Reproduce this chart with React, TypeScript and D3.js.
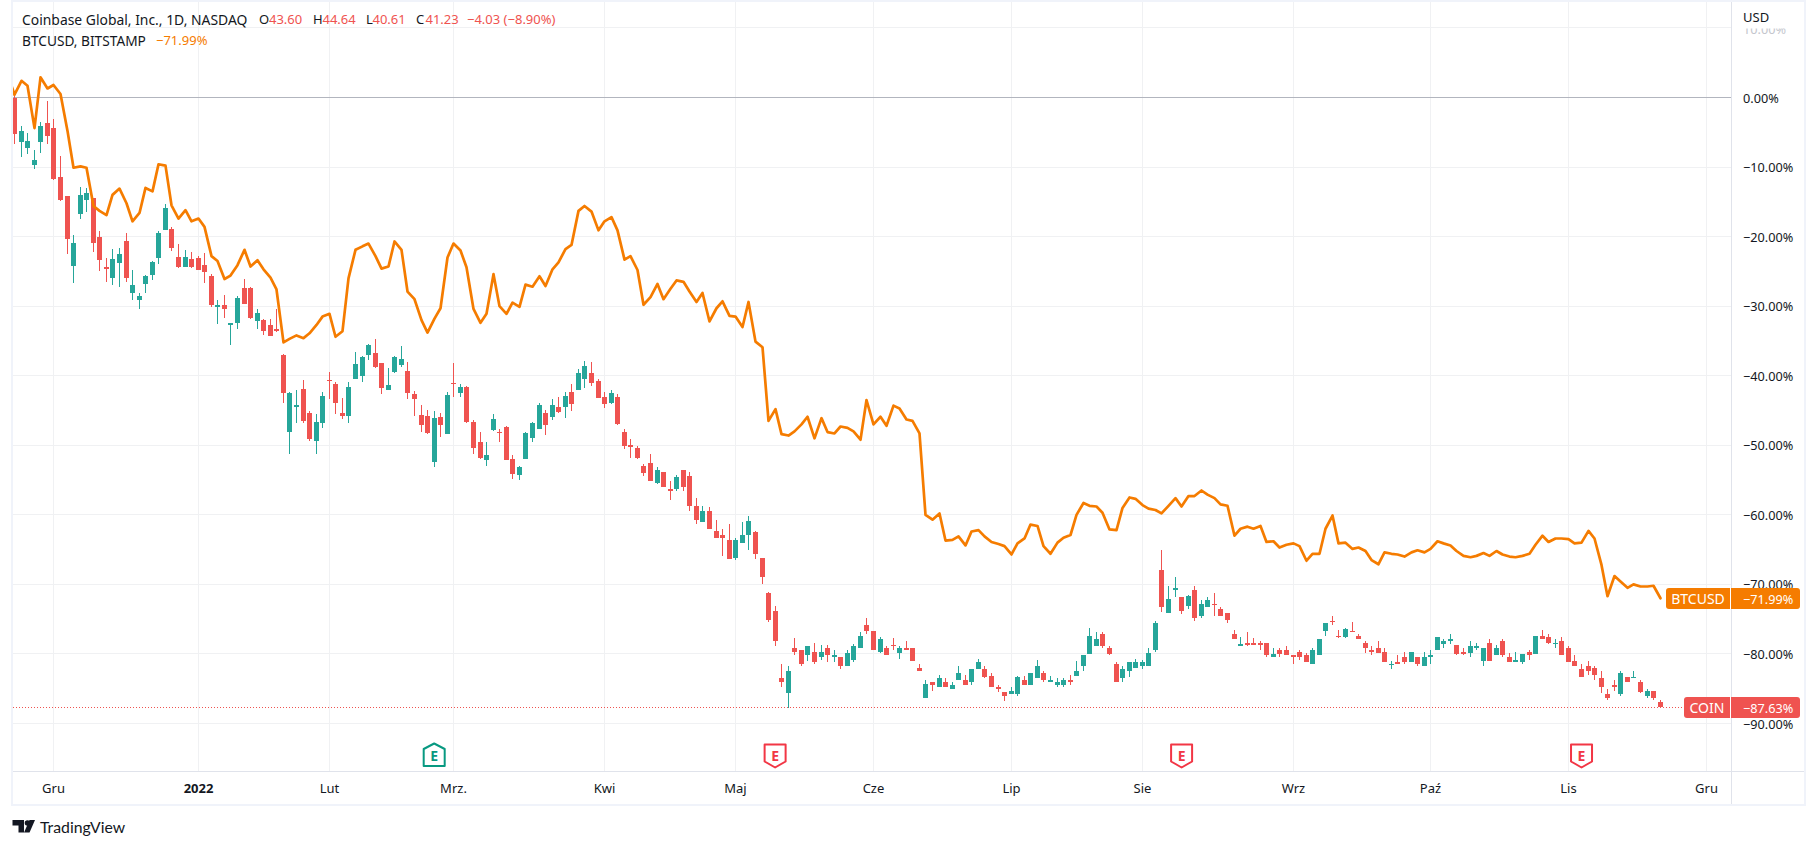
import React from "react";
import * as d3 from "d3";

const FONT = "'Noto Sans', sans-serif";
const UP = "#26a69a";
const DOWN = "#ef5350";
const ORANGE = "#f57c00";
const FRAME = "#f0f3fa";
const GRID = "#f0f1f3";
const AXIS = "#e0e3eb";
const TEXT = "#131722";

// COIN, percent change from the first bar of the window
const opens = [
0.0,-6.4,-7.3,-9.7,-6.4,-3.7,-4.4,-11.4,-14.2,-24.2,
-16.7,-14.7,-14.4,-20.1,-24.4,-25.9,-23.8,-20.6,-28.1,-29.1,
-26.8,-25.5,-23.1,-19.0,-18.9,-22.9,-24.4,-23.2,-23.1,-24.1,
-25.7,-30.1,-29.8,-32.7,-32.4,-27.4,-27.4,-32.1,-32.0,-32.7,
-33.3,-37.0,-48.1,-44.5,-41.9,-45.4,-49.4,-46.8,-40.6,-41.2,
-45.4,-45.8,-40.5,-40.0,-37.0,-36.7,-38.2,-42.1,-39.5,-38.5,
-39.3,-42.6,-45.6,-45.8,-52.4,-45.9,-48.4,-41.1,-42.5,-41.6,
-46.7,-49.5,-52.1,-47.8,-48.1,-47.4,-52.0,-54.3,-52.0,-48.9,
-47.7,-45.4,-45.9,-44.5,-44.5,-42.3,-42.1,-40.5,-39.6,-40.8,
-43.1,-43.9,-43.1,-48.1,-50.0,-50.4,-53.0,-52.5,-55.4,-53.8,
-56.3,-56.3,-53.5,-54.4,-58.7,-61.1,-59.4,-62.3,-62.9,-63.6,
-66.2,-64.0,-62.9,-62.4,-66.2,-71.2,-73.8,-83.4,-85.6,-79.1,
-79.5,-80.2,-79.7,-80.5,-79.1,-80.4,-80.5,-81.7,-80.8,-79.1,
-75.9,-76.7,-79.7,-79.1,-78.7,-79.8,-79.1,-79.2,-82.0,-86.3,
-84.1,-84.8,-84.1,-85.0,-83.8,-83.8,-84.0,-82.1,-82.1,-83.1,
-84.8,-85.4,-85.7,-85.7,-83.7,-84.4,-83.4,-82.7,-84.0,-84.5,
-84.4,-83.7,-83.1,-81.8,-80.0,-78.8,-77.1,-79.2,-81.4,-83.5,
-82.5,-82.0,-81.7,-81.8,-79.4,-68.0,-74.1,-70.8,-71.8,-73.1,
-70.8,-74.5,-73.3,-72.8,-73.6,-74.1,-77.1,-78.8,-78.4,-78.4,
-78.4,-78.4,-80.4,-79.5,-79.4,-80.2,-79.7,-80.2,-81.5,-80.1,
-76.7,-75.2,-77.4,-77.5,-76.7,-77.4,-78.4,-79.5,-79.2,-79.7,
-81.5,-81.1,-80.4,-81.2,-80.5,-81.7,-80.5,-79.4,-78.5,-78.1,
-78.7,-79.7,-79.8,-79.1,-81.0,-78.4,-80.1,-78.1,-80.5,-81.1,
-81.1,-79.7,-80.0,-77.4,-77.5,-78.5,-78.2,-79.2,-81.0,-82.1,
-81.8,-82.0,-83.5,-85.8,-84.5,-85.8,-83.3,-83.5,-84.1,-86.1,
-85.3,-86.92];

const closes = [
-5.3,-4.8,-6.3,-9.0,-4.1,-5.5,-11.7,-14.7,-20.3,-20.9,
-14.0,-13.7,-20.9,-23.4,-24.7,-23.2,-22.5,-25.9,-27.0,-28.5,
-25.7,-23.6,-19.5,-15.9,-21.6,-24.4,-22.9,-24.4,-24.8,-25.1,
-29.8,-29.8,-30.4,-32.4,-28.8,-29.7,-31.7,-31.0,-33.6,-34.3,
-33.6,-42.5,-42.5,-44.2,-46.5,-49.1,-46.7,-42.9,-40.8,-43.9,
-45.8,-41.6,-38.3,-37.3,-35.6,-38.8,-41.8,-41.3,-37.3,-37.6,
-42.5,-43.3,-47.1,-48.2,-46.1,-47.1,-42.8,-41.2,-41.6,-46.7,
-50.4,-51.8,-51.4,-46.2,-48.2,-52.1,-54.1,-53.1,-48.2,-46.8,
-44.2,-47.1,-44.2,-45.2,-42.9,-44.1,-39.6,-38.6,-41.1,-43.2,
-44.1,-42.5,-46.9,-50.1,-50.2,-51.8,-54.0,-55.1,-53.5,-56.0,
-56.6,-54.5,-56.0,-58.8,-60.8,-59.4,-62.0,-63.3,-63.3,-66.3,
-63.6,-62.9,-60.9,-65.7,-68.9,-75.1,-78.2,-84.0,-82.4,-79.7,
-81.5,-78.9,-81.1,-79.7,-80.2,-80.1,-81.7,-79.8,-78.9,-77.4,
-76.7,-79.5,-77.8,-80.1,-78.8,-79.1,-79.4,-81.0,-82.4,-84.3,
-84.5,-83.4,-84.7,-84.5,-82.7,-84.5,-82.2,-81.1,-83.3,-84.7,
-85.1,-86.0,-85.3,-83.3,-84.5,-82.7,-81.8,-83.8,-83.7,-84.0,
-83.8,-84.0,-82.4,-80.2,-77.4,-77.8,-78.8,-80.0,-84.1,-82.2,
-81.2,-81.1,-81.1,-79.8,-75.6,-73.3,-72.1,-70.5,-73.8,-71.6,
-74.9,-72.8,-72.3,-72.9,-74.5,-75.1,-77.8,-78.5,-78.7,-78.7,
-78.7,-80.1,-80.0,-80.0,-80.1,-80.4,-80.5,-81.2,-79.5,-77.9,
-75.6,-75.4,-77.5,-76.4,-76.9,-77.9,-79.1,-79.7,-79.8,-81.2,
-81.4,-81.4,-81.1,-79.7,-81.5,-80.5,-80.1,-77.5,-78.1,-77.8,
-80.0,-80.0,-78.9,-78.9,-79.1,-81.0,-79.2,-80.2,-81.1,-80.8,
-80.0,-80.1,-77.4,-77.9,-78.4,-78.4,-80.2,-81.1,-81.8,-83.3,
-82.4,-83.0,-84.8,-86.3,-84.8,-82.7,-84.1,-83.3,-85.4,-85.3,
-86.4,-87.63];

const highs = [
0.4,-4.1,-5.1,-7.5,-3.5,-0.5,-3.1,-8.4,-14.2,-19.8,
-12.9,-13.0,-14.4,-19.2,-23.1,-21.8,-21.6,-19.5,-24.8,-28.1,
-25.5,-23.5,-19.2,-15.3,-18.6,-21.1,-21.9,-22.2,-22.8,-22.4,
-25.4,-29.1,-28.4,-32.4,-28.5,-26.1,-27.2,-30.4,-31.8,-31.8,
-30.4,-36.9,-42.3,-42.1,-40.6,-45.1,-45.5,-42.3,-39.5,-40.9,
-43.2,-40.9,-36.6,-37.2,-35.5,-34.7,-38.2,-38.9,-37.2,-35.7,
-38.0,-42.2,-44.2,-44.9,-45.1,-45.4,-42.3,-38.2,-41.2,-41.5,
-46.4,-48.1,-49.5,-45.5,-47.7,-47.2,-51.4,-53.0,-48.1,-46.7,
-43.9,-44.9,-43.3,-43.1,-42.3,-41.2,-39.0,-37.9,-38.0,-40.5,
-42.3,-42.1,-42.6,-47.7,-49.1,-50.1,-52.7,-51.2,-53.1,-53.8,
-55.1,-54.3,-53.5,-53.9,-57.6,-58.7,-58.9,-60.7,-62.0,-61.3,
-63.3,-61.1,-60.1,-62.3,-66.2,-71.1,-73.1,-81.5,-81.8,-77.7,
-79.5,-78.8,-78.4,-78.7,-78.7,-79.4,-80.5,-79.4,-78.5,-76.8,
-74.9,-76.7,-77.5,-78.8,-77.7,-78.9,-78.1,-79.1,-81.4,-83.7,
-84.0,-83.0,-83.5,-84.1,-81.7,-83.0,-82.1,-80.7,-81.8,-82.7,
-84.5,-85.4,-84.8,-83.1,-83.1,-82.7,-80.8,-82.4,-83.1,-83.5,
-83.5,-83.0,-81.0,-80.1,-76.2,-76.9,-76.9,-78.9,-81.1,-81.7,
-81.1,-80.7,-80.8,-79.1,-75.2,-65.0,-70.3,-68.9,-71.8,-71.5,
-70.3,-72.2,-71.8,-71.3,-73.3,-74.1,-76.5,-77.5,-76.9,-77.7,
-78.2,-78.4,-79.1,-79.1,-78.8,-80.1,-79.5,-79.8,-79.2,-77.9,
-75.6,-74.5,-76.5,-76.2,-75.4,-77.1,-78.2,-78.9,-78.2,-79.2,
-81.0,-80.1,-79.7,-79.7,-80.5,-79.7,-79.5,-77.5,-77.9,-77.1,
-78.7,-79.1,-78.1,-78.4,-79.1,-77.8,-78.7,-77.8,-79.8,-79.7,
-80.0,-79.5,-77.4,-76.5,-77.2,-77.8,-77.5,-78.9,-80.1,-81.4,
-81.0,-81.7,-82.4,-85.0,-83.7,-82.4,-83.3,-82.5,-83.7,-85.0,
-85.3,-86.6];

const lows = [
-6.7,-8.5,-8.1,-10.3,-8.0,-6.7,-11.9,-14.9,-22.5,-26.7,
-17.5,-16.5,-22.2,-24.9,-26.5,-27.0,-27.2,-26.5,-29.1,-30.4,
-28.1,-26.2,-23.9,-19.0,-22.1,-24.5,-24.4,-24.5,-24.8,-26.7,
-30.1,-32.6,-31.7,-35.6,-33.3,-29.7,-31.8,-33.3,-34.1,-34.3,
-33.7,-43.9,-51.2,-46.8,-46.8,-49.4,-51.2,-47.5,-43.3,-45.5,
-46.2,-46.8,-40.5,-40.9,-37.8,-38.9,-42.6,-42.1,-39.6,-38.8,
-43.3,-45.8,-48.1,-48.4,-53.1,-48.8,-48.4,-43.1,-43.1,-46.8,
-51.2,-52.0,-53.0,-47.9,-49.5,-52.1,-54.8,-55.0,-52.0,-49.5,
-47.7,-48.5,-46.4,-45.4,-46.1,-45.1,-42.1,-41.8,-41.5,-43.2,
-44.6,-44.1,-47.1,-50.5,-51.8,-52.0,-54.4,-55.1,-55.5,-56.0,
-57.8,-56.6,-56.6,-59.4,-61.3,-61.1,-62.0,-63.3,-65.9,-66.3,
-66.5,-64.0,-65.0,-66.3,-69.9,-75.4,-78.8,-84.8,-87.7,-80.2,
-81.8,-81.0,-81.4,-80.8,-81.2,-81.2,-82.2,-81.7,-81.2,-79.1,
-77.2,-79.5,-79.8,-80.2,-79.4,-80.7,-79.4,-81.0,-82.5,-86.3,
-85.3,-84.8,-84.8,-85.1,-83.8,-84.5,-84.4,-82.1,-83.4,-84.8,
-85.4,-86.7,-85.7,-86.1,-84.5,-84.4,-83.5,-84.0,-84.1,-84.8,
-84.8,-84.4,-83.1,-82.5,-80.0,-78.8,-79.2,-80.1,-84.1,-84.0,
-83.3,-82.0,-82.1,-81.8,-79.7,-73.9,-74.1,-71.8,-74.2,-73.5,
-75.2,-74.9,-73.3,-74.6,-74.5,-75.5,-77.8,-78.8,-78.8,-78.7,
-79.4,-80.4,-80.4,-80.5,-80.1,-81.4,-80.8,-81.2,-81.5,-80.2,
-77.4,-75.8,-77.7,-77.7,-76.9,-77.9,-79.8,-80.1,-79.8,-81.2,
-82.1,-81.4,-81.4,-81.2,-81.8,-81.7,-81.4,-79.4,-79.1,-78.5,
-80.2,-80.2,-80.4,-79.5,-81.7,-81.0,-80.1,-80.4,-81.1,-81.1,
-81.4,-80.8,-80.0,-77.9,-78.5,-79.1,-80.2,-81.1,-81.8,-83.3,
-83.0,-83.7,-85.6,-86.6,-85.3,-86.0,-84.1,-83.5,-85.6,-86.4,
-86.6,-87.82];

// BTCUSD on the same trading days, percent change; first value is one bar before the first candle
const btc = [
3.0,
0.4,2.4,1.7,-4.4,2.9,1.3,1.8,0.5,-4.8,-10.1,
-9.9,-10.1,-15.6,-16.3,-16.9,-14.0,-13.1,-15.2,-17.8,-16.6,
-13.0,-13.5,-9.6,-9.8,-15.5,-17.4,-16.2,-17.8,-17.4,-18.6,
-22.8,-23.5,-26.1,-25.6,-24.1,-21.9,-24.3,-23.4,-24.7,-25.9,
-27.6,-35.2,-34.7,-34.2,-34.6,-33.9,-32.7,-31.5,-31.1,-34.4,
-33.6,-26.0,-21.9,-21.4,-21.0,-22.8,-24.6,-24.3,-20.7,-21.9,
-27.9,-29.0,-32.0,-33.8,-31.8,-30.3,-23.0,-21.0,-22.0,-24.4,
-30.4,-32.4,-31.1,-25.4,-30.0,-31.1,-29.5,-30.1,-26.9,-27.2,
-25.7,-27.1,-24.7,-23.7,-21.8,-21.2,-16.3,-15.6,-16.4,-19.1,
-17.8,-17.2,-19.1,-23.3,-22.8,-24.8,-29.8,-28.7,-26.8,-29.0,
-27.5,-26.3,-26.5,-27.9,-29.4,-28.1,-32.2,-30.3,-29.3,-31.4,
-31.5,-33.0,-29.4,-35.1,-35.9,-46.5,-44.8,-48.4,-48.6,-48.0,
-47.0,-45.9,-49.0,-46.1,-48.1,-48.3,-47.3,-47.5,-48.0,-49.2,
-43.5,-47.0,-45.9,-47.2,-44.3,-44.7,-46.3,-46.5,-48.3,-60.0,
-60.7,-59.8,-63.7,-63.6,-63.1,-64.4,-62.4,-62.2,-63.1,-63.9,
-64.2,-64.5,-65.7,-64.1,-63.4,-61.4,-61.6,-64.5,-65.6,-64.0,
-63.3,-62.9,-60.0,-58.3,-58.7,-58.8,-59.7,-62.1,-62.2,-59.0,
-57.5,-57.7,-58.6,-59.1,-59.3,-59.8,-58.7,-57.6,-58.8,-57.3,
-57.3,-56.5,-57.1,-57.6,-58.5,-58.7,-63.0,-62.0,-61.7,-62.0,
-61.6,-63.9,-63.8,-64.7,-64.3,-64.1,-64.5,-66.6,-65.6,-65.6,
-62.0,-60.1,-64.1,-64.0,-64.9,-64.7,-65.2,-66.5,-67.1,-65.4,
-65.6,-65.7,-66.0,-65.4,-65.1,-65.4,-64.9,-63.8,-64.1,-64.4,
-65.2,-65.9,-66.1,-65.9,-65.5,-65.9,-65.2,-65.7,-66.0,-66.1,
-65.9,-65.6,-64.3,-63.0,-63.9,-63.4,-63.4,-63.5,-64.1,-64.0,
-62.3,-63.4,-67.2,-71.7,-68.8,-69.6,-70.5,-70.0,-70.3,-70.3,
-70.2,-71.99];

const percentTicks = [0,-10,-20,-30,-40,-50,-60,-70,-80,-90];
const monthIndex = [6,28,48,67,90,110,131,152,172,195,216,237,258];
const monthLabels = ["Gru","2022","Lut","Mrz.","Kwi","Maj","Cze","Lip","Sie","Wrz","Paź","Lis","Gru"];
const earningsUp = [64];
const earningsDown = [116,178,239];

const W = 1816, H = 847;
const plot = { left: 13, right: 1731, top: 2, bottom: 771 };
const x = d3.scaleLinear().domain([0, 251]).range([14.6, 1660.2]);
const y = d3.scaleLinear().domain([0, -90]).range([97.5, 723.5]);
const px = (i: number) => Math.floor(x(i));
const fmt = (v: number) => (v < 0 ? "\u2212" : "") + Math.abs(v).toFixed(2) + "%";

const btcLine = d3.line<number>().x((_, i) => px(i - 1) + 0.5).y((v) => y(v)).curve(d3.curveLinear);

function Earnings({ i, up }: { i: number; up: boolean }) {
  const cx = x(i);
  const color = up ? "#089981" : "#f23645";
  const outline = up
    ? [[0, 743.5],[10.5, 749],[10.5, 766],[-10.5, 766],[-10.5, 749]]
    : [[-10.5, 744.5],[10.5, 744.5],[10.5, 761.5],[0, 767.5],[-10.5, 761.5]];
  const d = d3.line<number[]>().x((p) => cx + p[0]).y((p) => p[1])(outline) + "Z";
  return (
    <g>
      <path d={d} fill="#fff" stroke={color} strokeWidth={2} strokeLinejoin="round" />
      <text x={cx} y={up ? 755.5 : 755} textAnchor="middle" dominantBaseline="central" fontFamily={FONT} fontWeight={700} fontSize={14} fill={color}>E</text>
    </g>
  );
}

export default function App() {
  const legendValues = [
    { label: "O", lx: 259, v: "43.60", vx: 269 },
    { label: "H", lx: 313, v: "44.64", vx: 322.5 },
    { label: "L", lx: 366, v: "40.61", vx: 372.5 },
    { label: "C", lx: 416, v: "41.23", vx: 425.5 },
  ];
  return (
    <svg width={W} height={H} viewBox={`0 0 ${W} ${H}`} style={{ position: "fixed", left: 0, top: 0, display: "block", background: "#fff" }}>
      <defs>
        <clipPath id="plotClip"><rect x={plot.left} y={plot.top} width={plot.right - plot.left} height={plot.bottom - plot.top} /></clipPath>
        <clipPath id="faded"><rect x={1732} y={28.5} width={70} height={10} /></clipPath>
      </defs>

      {/* frame */}
      <rect x={11} y={0} width={1795} height={2} fill={FRAME} />
      <rect x={11} y={0} width={2} height={806} fill={FRAME} />
      <rect x={11} y={804} width={1795} height={2} fill={FRAME} />
      <rect x={1804} y={0} width={2} height={806} fill={FRAME} />

      {/* grid */}
      {monthIndex.map((m, k) => (
        <line key={k} x1={px(m) + 0.5} x2={px(m) + 0.5} y1={plot.top} y2={plot.bottom} stroke={GRID} />
      ))}
      {[10, ...percentTicks].map((t) => (
        <line key={t} x1={plot.left} x2={plot.right} y1={Math.floor(y(t)) + 0.5} y2={Math.floor(y(t)) + 0.5} stroke={t === 0 ? "#b2b5be" : GRID} />
      ))}

      <g clipPath="url(#plotClip)">
        {/* last price line */}
        <line x1={plot.left} x2={plot.right} y1={Math.floor(y(-87.63)) + 0.5} y2={Math.floor(y(-87.63)) + 0.5} stroke={DOWN} strokeDasharray="1 2" />
        {/* candles */}
        {opens.map((o, i) => {
          const c = closes[i];
          const color = c >= o ? UP : DOWN;
          const top = Math.round(y(Math.max(o, c)));
          const bot = Math.round(y(Math.min(o, c)));
          const hi = Math.round(y(highs[i]));
          const lo = Math.round(y(lows[i]));
          return (
            <g key={i} fill={color}>
              <rect x={px(i)} y={hi} width={1} height={Math.max(1, lo - hi)} />
              <rect x={px(i) - 2} y={top} width={5} height={Math.max(1, bot - top)} />
            </g>
          );
        })}
        {/* BTC */}
        <path d={btcLine(btc) as string} fill="none" stroke={ORANGE} strokeWidth={2.7} strokeLinejoin="round" strokeLinecap="round" />
      </g>

      {/* earnings */}
      {earningsUp.map((i) => <Earnings key={i} i={i} up />)}
      {earningsDown.map((i) => <Earnings key={i} i={i} up={false} />)}

      {/* axes */}
      <line x1={plot.left} x2={1804} y1={771.5} y2={771.5} stroke={AXIS} />
      <line x1={1731.5} x2={1731.5} y1={plot.top} y2={804} stroke={AXIS} />

      {monthLabels.map((m, k) => (
        <text key={k} x={px(monthIndex[k]) + 0.5} y={788} textAnchor="middle" dominantBaseline="central" fontFamily={FONT} fontSize={13} fontWeight={m === "2022" ? 700 : 400} fill={TEXT}>{m}</text>
      ))}

      <text x={1743} y={28.5} dominantBaseline="central" clipPath="url(#faded)" fontFamily={FONT} fontSize={12.7} fill="#c4c6cd">10.00%</text>
      <text x={1743} y={17} dominantBaseline="central" fontFamily={FONT} fontSize={13} fill={TEXT}>USD</text>
      {percentTicks.map((t) => (
        <text key={t} x={1743} y={y(t)} dominantBaseline="central" fontFamily={FONT} fontSize={12.7} fill={TEXT}>{fmt(t)}</text>
      ))}

      {/* last value tags */}
      <g fontFamily={FONT} fontSize={12.7} fill="#fff" dominantBaseline="central">
        <rect x={1666} y={588} width={134} height={21} rx={3} fill={ORANGE} />
        <rect x={1730} y={588} width={1} height={21} fill="#fff" />
        <text x={1698} y={598.5} textAnchor="middle" fontSize={14}>BTCUSD</text>
        <text x={1743} y={598.5}>{fmt(-71.99)}</text>
        <rect x={1684} y={697} width={116} height={21} rx={3} fill={DOWN} />
        <rect x={1730} y={697} width={1} height={21} fill="#fff" />
        <text x={1707} y={707.5} textAnchor="middle" fontSize={14}>COIN</text>
        <text x={1743} y={707.5}>{fmt(-87.63)}</text>
      </g>

      {/* legend */}
      <g fontFamily={FONT} fontSize={13} dominantBaseline="central" fill={TEXT}>
        <text x={22} y={19} fontSize={13.9}>Coinbase Global, Inc., 1D, NASDAQ</text>
        {legendValues.map((l) => (
          <g key={l.label}>
            <text x={l.lx} y={19}>{l.label}</text>
            <text x={l.vx} y={19} fill={DOWN}>{l.v}</text>
          </g>
        ))}
        <text x={467} y={19} fill={DOWN}>{"\u22124.03 (\u22128.90%)"}</text>
        <text x={22} y={40} fontSize={13.7}>BTCUSD, BITSTAMP</text>
        <text x={156} y={40} fill={ORANGE}>{fmt(-71.99)}</text>
      </g>

      {/* attribution */}
      <g fill={TEXT}>
        <path d="M12.5 820h11.5v12.5h-5.5v-7h-6z" />
        <circle cx={27.5} cy={823} r={2.8} />
        <path d="M29.5 820h5.5l-5.5 12.5h-5.5z" />
        <text x={40} y={826} dominantBaseline="central" fontFamily="Lato, sans-serif" fontSize={15.8}>TradingView</text>
      </g>
    </svg>
  );
}
